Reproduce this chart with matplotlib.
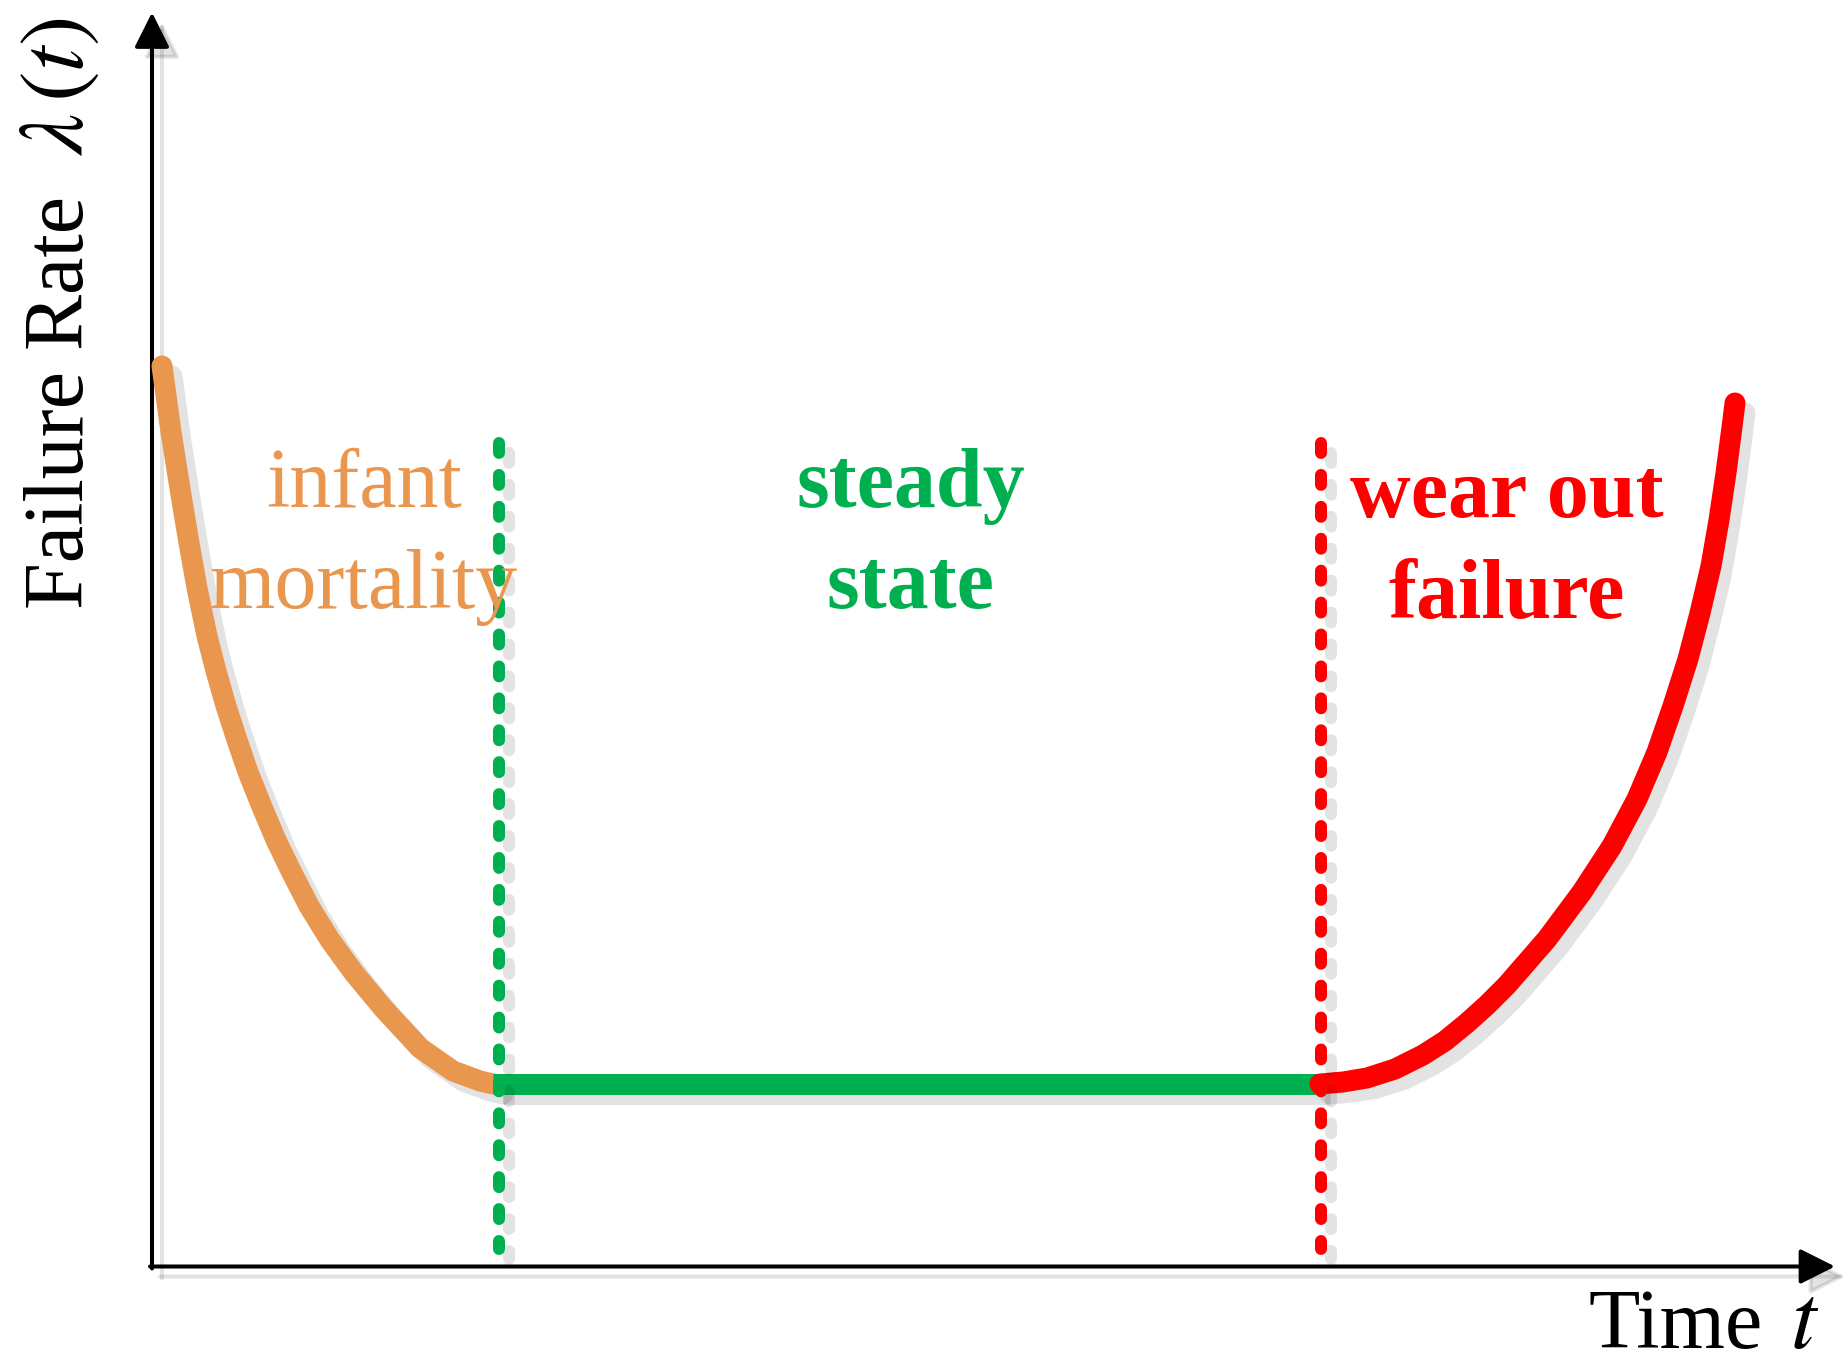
import matplotlib.pyplot as plt
import matplotlib.transforms as mtransforms
from matplotlib.patches import FancyArrowPatch, ArrowStyle

plt.rcParams['font.family'] = ['Liberation Serif', 'DejaVu Serif']
plt.rcParams['mathtext.fontset'] = 'stix'

t_infant = [0.10, 0.19, 0.29, 0.37, 0.45, 0.55, 0.64, 0.74, 0.85, 0.96, 1.10,
            1.24, 1.40, 1.57, 1.78, 2.02, 2.31, 2.68, 3.01, 3.28, 3.41]
lam_infant = [9.005, 8.345, 7.715, 7.235, 6.785, 6.305, 5.955, 5.605, 5.265, 4.945, 4.595,
              4.265, 3.935, 3.605, 3.265, 2.935, 2.585, 2.185, 1.955, 1.855, 1.825]

t_steady = [3.41, 11.68]
lam_steady = [1.825, 1.825]

t_wear = [11.68, 11.91, 12.15, 12.43, 12.71, 12.93, 13.15, 13.35, 13.55, 13.95, 14.30,
          14.60, 14.85, 15.05, 15.21, 15.36, 15.48, 15.59, 15.67, 15.74, 15.80, 15.83]
lam_wear = [1.825, 1.845, 1.885, 1.975, 2.115, 2.255, 2.435, 2.615, 2.815, 3.275, 3.745,
            4.205, 4.675, 5.145, 5.605, 6.075, 6.535, 7.005, 7.465, 7.935, 8.395, 8.635]

# limites des phases
t_bornes = [3.47, 11.69]
lam_bornes = [8.24, 0.18]

# longueur des axes
t_max = 16.83
lam_max = 12.54

c_infant = '#E9964F'
c_steady = '#00B050'
c_wear = '#FF0000'

fig = plt.figure(figsize=(18.48, 13.66), dpi=100)
ax = fig.add_axes([0, 0, 1, 1])
ax.set_xlim(-1.52, 16.96)
ax.set_ylim(-0.995, 12.665)
ax.axis('off')

ombre = mtransforms.offset_copy(ax.transData, fig=fig, x=10, y=-10, units='dots')
gris = dict(color='k', alpha=0.11)


def fleche(p0, p1, tr, couleur, alpha, z):
    st = ArrowStyle('-|>', head_length=21.5, head_width=10.8)
    a = FancyArrowPatch(posA=p0, posB=p1, arrowstyle=st, mutation_scale=1,
                        lw=2.9, color=couleur, alpha=alpha, shrinkA=0, shrinkB=0,
                        transform=tr, zorder=z)
    ax.add_patch(a)


# axes avec ombre
for tr, col, al, z in [(ombre, 'k', 0.11, 1), (ax.transData, 'k', 1, 2)]:
    fleche((0, -0.02), (0, lam_max), tr, col, al, z)
    fleche((-0.02, 0), (t_max, 0), tr, col, al, z)

# courbes
lw = 15.1
for tr, z in [(ombre, 3), (ax.transData, 4)]:
    kw = gris if tr is ombre else {}
    ax.plot(t_infant, lam_infant, lw=lw, transform=tr, zorder=z,
            solid_capstyle='round', solid_joinstyle='round',
            **(kw or dict(color=c_infant)))
    ax.plot(t_steady, lam_steady, lw=lw, transform=tr, zorder=z,
            solid_capstyle='butt', **(kw or dict(color=c_steady)))
    ax.plot(t_wear, lam_wear, lw=lw, transform=tr, zorder=z + 0.1,
            solid_capstyle='round', solid_joinstyle='round',
            **(kw or dict(color=c_wear)))

# lignes pointillées
for tb, col in zip(t_bornes, [c_steady, c_wear]):
    for tr, z in [(ombre, 5), (ax.transData, 6)]:
        kw = gris if tr is ombre else dict(color=col)
        ax.plot([tb, tb], lam_bornes, lw=8.64, dashes=(0.83, 1.83),
                dash_capstyle='round', transform=tr, zorder=z, **kw)

fs = 60.5
ax.text(2.12, 7.595, 'infant', color=c_infant, fontsize=fs, ha='center', va='baseline', zorder=7)
ax.text(2.11, 6.585, 'mortality', color=c_infant, fontsize=fs, ha='center', va='baseline', zorder=7)
ax.text(7.59, 7.595, 'steady', color=c_steady, fontsize=fs, fontweight='bold',
        ha='center', va='baseline', zorder=7)
ax.text(7.58, 6.585, 'state', color=c_steady, fontsize=fs, fontweight='bold',
        ha='center', va='baseline', zorder=7)
ax.text(13.55, 7.495, 'wear out', color=c_wear, fontsize=fs, fontweight='bold',
        ha='center', va='baseline', zorder=7)
ax.text(13.55, 6.485, 'failure', color=c_wear, fontsize=fs, fontweight='bold',
        ha='center', va='baseline', zorder=7)

ax.text(14.37, -0.815, 'Time', fontsize=fs, ha='left', va='baseline')
ax.text(16.38, -0.815, '$t$', fontsize=66, ha='left', va='baseline')
ax.text(-0.69, 6.575, 'Failure Rate', fontsize=fs, rotation=90,
        rotation_mode='anchor', ha='left', va='baseline')
ax.text(-0.69, 11.105, r'$\lambda\,(t)$', fontsize=66, rotation=90,
        rotation_mode='anchor', ha='left', va='baseline')

fig.savefig('out.png', dpi=100)
